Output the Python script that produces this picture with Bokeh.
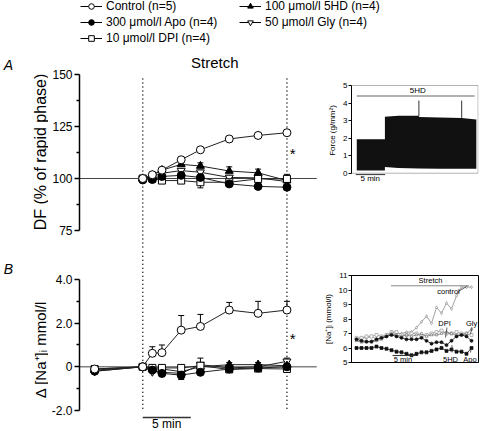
from bokeh.plotting import figure
from bokeh.models import (Range1d, FixedTicker, Label, Legend, LegendItem,
                          BoxAnnotation, ColumnDataSource)
from bokeh.layouts import column, row
from bokeh.embed import file_html
from bokeh.resources import INLINE
from bokeh.core.properties import value

FONT = "Liberation Sans"

# ---------------- data ----------------
series_names = ["Control (n=5)", "300 \u03bcmol/l Apo (n=4)", "10 \u03bcmol/l DPI (n=4)",
                "100 \u03bcmol/l 5HD (n=4)", "50 \u03bcmol/l Gly (n=4)"]
series_markers = ["circle", "circle", "square", "triangle", "inverted_triangle"]
series_fills = ["white", "black", "white", "black", "white"]
err_sign = [1, -1, -1, 1, 1]

# Panel A: DF (% of rapid phase)
time_a = [0, 1, 2, 4, 6, 9, 12, 15]
df_control = [100, 101.8, 104, 109, 113.8, 119, 120.7, 122]
df_apo = [99.3, 99.5, 101, 101.5, 100.5, 97.4, 96.2, 95.8]
df_dpi = [100, 100, 99, 99, 98.2, 98.2, 99.8, 99.8]
df_5hd = [100, 101.5, 104, 106.8, 106, 103.6, 102.7, 99]
df_gly = [100, 101, 102.5, 103.8, 103, 100.5, 100.3, 98.5]
df_err_control = [0.3, 0.5, 0.8, 1.0, 1.0, 1.0, 1.0, 1.2]
df_err_apo = [0.3, 0.5, 0.5, 1.0, 1.5, 1.0, 1.0, 1.0]
df_err_dpi = [0.3, 0.5, 1.0, 1.0, 2.7, 1.0, 0.5, 0.5]
df_err_5hd = [0.3, 0.5, 1.0, 1.0, 1.5, 2.0, 1.8, 1.0]
df_err_gly = [0.3, 0.5, 0.5, 1.0, 1.0, 1.0, 1.0, 3.5]

# Panel B: delta [Na+]i (mmol/l)
time_b = [-5, 0, 1, 2, 4, 6, 9, 12, 15]
na_control = [-0.1, 0, 0.62, 0.65, 1.68, 1.85, 2.6, 2.45, 2.6]
na_apo = [-0.2, 0, -0.15, -0.3, -0.38, -0.25, -0.1, -0.05, 0.0]
na_dpi = [-0.1, 0, -0.05, -0.05, -0.05, 0.05, -0.12, -0.08, -0.1]
na_5hd = [-0.15, 0, -0.1, -0.1, -0.22, 0.0, 0.1, 0.1, 0.05]
na_gly = [-0.2, 0, -0.22, -0.25, -0.3, 0.1, -0.05, 0.0, 0.25]
na_err_control = [0.05, 0, 0.3, 0.35, 0.67, 0.55, 0.35, 0.55, 0.4]
na_err_apo = [0.1, 0, 0.1, 0.15, 0.2, 0.1, 0.1, 0.1, 0.1]
na_err_dpi = [0.1, 0, 0.1, 0.1, 0.1, 0.1, 0.1, 0.1, 0.1]
na_err_5hd = [0.1, 0, 0.1, 0.1, 0.1, 0.1, 0.1, 0.1, 0.1]
na_err_gly = [0.1, 0, 0.15, 0.15, 0.2, 0.3, 0.1, 0.1, 0.15]

stretch_period = [0, 15]
scale_bar_min = [0, 5]

# Inset A: force trace with 5HD
force_time = [0.9, 5.7, 5.7, 8.0, 11.5, 11.5, 15.0, 18.8, 21.3]
force_high = [1.93, 1.93, 3.22, 3.28, 3.28, 3.2, 3.18, 3.15, 3.06]
force_low = [0.15, 0.15, 0.35, 0.3, 0.27, 0.27, 0.25, 0.25, 0.25]
spike_time = [11.5, 18.8]
spike_base = [3.25, 3.15]
spike_top = [4.14, 4.14]
hd_bar_time = [0.9, 21.0]
hd_bar_level = [4.4, 4.4]
force_ticks = [0, 1, 2, 3, 4, 5]

# Inset B: [Na+]i traces
trace_time = list(range(1, 25))
trace_control = [6.6, 6.7, 6.7, 6.8, 6.6, 6.7, 6.8, 7.1, 7.0, 7.0, 7.1, 7.1,
                 7.4, 7.8, 8.2, 7.7, 8.8, 8.4, 9.1, 8.7, 9.6, 10.2, 10.2, 10.2]
trace_apo = [6.0, 6.0, 6.0, 6.0, 6.1, 6.0, 5.95, 5.85, 5.75, 5.7, 5.6, 5.5,
             5.6, 5.7, 5.7, 5.8, 5.9, 6.0, 5.8, 5.9, 5.75, 5.75, 5.6, 6.0]
trace_5hd = [6.6, 6.5, 6.45, 6.45, 6.6, 6.7, 6.8, 6.9, 6.8, 6.7, 6.6, 6.6,
             6.6, 6.7, 6.5, 6.3, 6.4, 6.4, 6.2, 6.5, 6.8, 6.9, 6.8, 6.5]
trace_dpi = [6.7, 6.7, 6.8, 6.8, 6.9, 6.8, 6.9, 7.1, 7.1, 6.9, 6.9, 7.0,
             7.0, 6.8, 6.9, 7.0, 7.1, 7.2, 7.0, 7.0, 7.1, 7.0, 7.0, 6.9]
trace_gly = [6.5, 6.4, 6.4, 6.4, 6.5, 6.6, 6.8, 7.0, 6.9, 6.8, 6.9, 6.8,
             6.9, 7.0, 6.8, 6.9, 6.9, 7.0, 7.1, 7.0, 6.9, 6.9, 7.0, 7.3]
stretch_bar_time = [7.9, 23.5]
na_ticks = [5, 6, 7, 8, 9, 10, 11]

# ---------------- helpers ----------------
def style_axis(ax, size, major, minor=None, bounds=None, tick_out=5, minor_out=3,
               lw=1.5, standoff=2):
    ax.ticker = FixedTicker(ticks=major, minor_ticks=minor or [])
    if bounds is not None:
        ax.bounds = bounds
    ax.axis_line_width = lw
    ax.major_tick_line_width = lw
    ax.minor_tick_line_width = lw
    ax.major_tick_out = tick_out
    ax.major_tick_in = 0
    ax.minor_tick_out = minor_out
    ax.minor_tick_in = 0
    ax.major_label_text_font = FONT
    ax.major_label_text_font_size = size
    ax.major_label_text_color = "black"
    ax.major_label_standoff = standoff
    ax.axis_line_color = "black"
    ax.major_tick_line_color = "black"
    ax.minor_tick_line_color = "black"
    ax.axis_label_text_color = "black"


def draw_series(p, t, ys, errs, size):
    for y in ys:
        p.line(t, y, line_color="#222222", line_width=1)
    for y, e, s in zip(ys, errs, err_sign):
        ends = [yy + s * ee for yy, ee in zip(y, e)]
        p.segment(x0=t, y0=y, x1=t, y1=ends, line_color="black", line_width=1)
        p.scatter(x=t, y=ends, marker="dash", size=6, line_color="black", line_width=1)
    order = [4, 3, 2, 1, 0]
    for i in order:
        m = series_markers[i]
        sz = size if m != "square" else size - 1
        p.scatter(x=t, y=ys[i], marker=m, size=sz, fill_color=series_fills[i],
                  line_color="black", line_width=1)


# ---------------- legend strip ----------------
leg = figure(width=480, height=55, x_range=Range1d(0, 1), y_range=Range1d(0, 1),
             toolbar_location=None, output_backend="svg", min_border=0,
             x_axis_location=None, y_axis_location=None, outline_line_color=None)
leg.grid.visible = False
items = []
for name, m, f in zip(series_names, series_markers, series_fills):
    src = ColumnDataSource(data=dict(x=[-10, -11], y=[-10, -11]))
    r1 = leg.line("x", "y", source=src, line_color="black", line_width=1)
    r2 = leg.scatter("x", "y", source=src, marker=m, size=6, fill_color=f,
                     line_color="black", line_width=1)
    items.append(LegendItem(label=name, renderers=[r1, r2]))
legend = Legend(items=items, location=(80, 10), orientation="vertical", nrows=3,
                glyph_width=22, glyph_height=14, label_height=14, label_width=131,
                label_standoff=4, spacing=2, padding=0, margin=0,
                border_line_color=None, background_fill_alpha=0,
                label_text_font=FONT, label_text_font_size="12px",
                label_text_color="black")
leg.add_layout(legend)

# ---------------- left strip with panel letters and y titles ----------------
strip = figure(width=48, height=376, x_range=Range1d(0, 48), y_range=Range1d(0, 376),
               toolbar_location=None, output_backend="svg", min_border=0,
               x_axis_location=None, y_axis_location=None, outline_line_color=None)
strip.grid.visible = False
strip.text(x=[8, 8], y=[367, 163], text=["A", "B"], text_align="center",
           text_baseline="middle", text_font=value(FONT), text_font_size="14px",
           text_font_style="italic", text_color="black")
strip.text(x=[40], y=[279.5], text=["DF (% of rapid phase)"], angle=1.5708,
           text_align="center", text_baseline="middle", text_font=value(FONT),
           text_font_size="16px", text_color="black")
strip.text(x=[40], y=[82], text=["\u0394 [Na\u207a]\u1d62 mmol/l"], angle=1.5708,
           text_align="center", text_baseline="middle", text_font=value(FONT),
           text_font_size="15px", text_color="black")

# ---------------- main panels ----------------
x_rng = Range1d(-6.575, 18.49)

def main_fig(h, y0, y1):
    p = figure(width=272, height=h, x_range=x_rng, y_range=Range1d(y0, y1),
               toolbar_location=None, output_backend="svg", x_axis_location=None,
               min_border_left=28, min_border_right=0, min_border_top=0,
               min_border_bottom=0, outline_line_color=None)
    p.grid.visible = False
    return p

# Panel A
pa = main_fig(195, 65.38, 159.13)
style_axis(pa.yaxis[0], "12px", [75, 100, 125, 150], [87.5, 112.5, 137.5], bounds=(75, 150))
pa.segment(x0=[x_rng.start], y0=[100], x1=[18.1], y1=[100], line_color="#444444", line_width=1)
pa.segment(x0=stretch_period, y0=[148.1, 148.1], x1=stretch_period, y1=[60, 60],
           line_color="black", line_width=1.5, line_dash="1 3")
draw_series(pa, time_a, [df_control, df_apo, df_dpi, df_5hd, df_gly],
            [df_err_control, df_err_apo, df_err_dpi, df_err_5hd, df_err_gly], 8)
pa.add_layout(Label(x=7.5, y=155.8, text="Stretch", text_align="center", text_baseline="middle",
                    text_font=FONT, text_font_size="15px", text_color="black"))
pa.add_layout(Label(x=15.6, y=112, text="*", text_align="center", text_baseline="middle",
                    text_font=FONT, text_font_size="15px", text_color="black"))

# Panel B
pb = main_fig(181, -2.962, 5.328)
style_axis(pb.yaxis[0], "12px", [-2, 0, 2, 4], [-1, 1, 3], bounds=(-2, 4))
pb.yaxis[0].major_label_overrides = {4: "4.0", 2: "2.0", 0: "0", -2: "-2.0"}
pb.segment(x0=[x_rng.start], y0=[0], x1=[18.1], y1=[0], line_color="#444444", line_width=1)
pb.segment(x0=stretch_period, y0=[6, 6], x1=stretch_period, y1=[-2.0, -2.0],
           line_color="black", line_width=1.5, line_dash="1 3")
draw_series(pb, time_b, [na_control, na_apo, na_dpi, na_5hd, na_gly],
            [na_err_control, na_err_apo, na_err_dpi, na_err_5hd, na_err_gly], 8)
pb.line(scale_bar_min, [-2.32, -2.32], line_color="#333333", line_width=1.5)
pb.add_layout(Label(x=2.5, y=-2.63, text="5 min", text_align="center", text_baseline="middle",
                    text_font=FONT, text_font_size="12px", text_color="black"))
pb.add_layout(Label(x=15.6, y=1.30, text="*", text_align="center", text_baseline="middle",
                    text_font=FONT, text_font_size="15px", text_color="black"))

# ---------------- inset A ----------------
ia = figure(width=160, height=195, x_range=Range1d(0, 21.67), y_range=Range1d(-0.587, 5.456),
            toolbar_location=None, output_backend="svg", x_axis_location=None,
            min_border_left=31, min_border_right=2, min_border_top=22, min_border_bottom=67,
            outline_line_color=None)
ia.grid.visible = False
style_axis(ia.yaxis[0], "8px", force_ticks, bounds=(0, 5), tick_out=3, lw=1, standoff=1)
ia.yaxis[0].axis_label = "Force (g/mm\u00b2)"
ia.yaxis[0].axis_label_text_font = FONT
ia.yaxis[0].axis_label_text_font_size = "8px"
ia.yaxis[0].axis_label_text_font_style = "normal"
ia.yaxis[0].axis_label_standoff = 3
ia.add_layout(BoxAnnotation(left=0, right=21.6, bottom=0, top=5, fill_alpha=0,
                            line_color="black", line_width=1))
ia.varea(x=force_time, y1=force_low, y2=force_high, fill_color="#111111")
ia.segment(x0=spike_time, y0=spike_base, x1=spike_time, y1=spike_top,
           line_color="#333333", line_width=1)
ia.line(hd_bar_time, hd_bar_level, line_color="#999999", line_width=1.5)
ia.text(x=[11.3], y=[4.72], text=["5HD"], text_align="center", text_baseline="middle",
        text_font=value(FONT), text_font_size="8px", text_color="black")
ia.line([0.73, 5.73], [-0.08, -0.08], line_color="#333333", line_width=1)
ia.text(x=[3.2], y=[-0.32], text=["5 min"], text_align="center", text_baseline="middle",
        text_font=value(FONT), text_font_size="8px", text_color="black")

# ---------------- inset B ----------------
ib = figure(width=160, height=181, x_range=Range1d(0, 25.4), y_range=Range1d(5, 11),
            toolbar_location=None, output_backend="svg", x_axis_location=None,
            min_border_left=31, min_border_right=2, min_border_top=25, min_border_bottom=69,
            outline_line_color="black", outline_line_width=1)
ib.grid.visible = False
style_axis(ib.yaxis[0], "8px", na_ticks, tick_out=3, lw=1, standoff=1)
ib.yaxis[0].axis_label = "[Na\u207a]\u1d62 (mmol/l)"
ib.yaxis[0].axis_label_text_font = FONT
ib.yaxis[0].axis_label_text_font_size = "8px"
ib.yaxis[0].axis_label_text_font_style = "normal"
ib.yaxis[0].axis_label_standoff = 3
trace_series = [trace_control, trace_dpi, trace_gly, trace_5hd, trace_apo]
trace_colors = ["#8a8a8a", "#9a9a9a", "#7a7a7a", "#111111", "#111111"]
trace_markers = ["diamond", "square", "triangle", "circle", "square"]
trace_fills = ["white", "white", "white", "#111111", "#111111"]
for y, c, m, f in zip(trace_series, trace_colors, trace_markers, trace_fills):
    ib.line(trace_time, y, line_color=c, line_width=0.8)
    ib.scatter(trace_time, y, marker=m, size=3, fill_color=f, line_color=c, line_width=0.7)
ib.line(stretch_bar_time, [10.29, 10.29], line_color="#888888", line_width=1)
ib.line([8.2, 13.2], [5.48, 5.48], line_color="#333333", line_width=1)
ann_text = ["Stretch", "control", "DPI", "Gly", "5HD", "Apo", "5 min"]
ib.text(x=[15.8, 19.4, 18.6, 24.0, 19.8, 23.7, 10.3],
        y=[10.66, 9.9, 7.69, 7.69, 5.21, 5.21, 5.21], text=ann_text,
        text_align="center", text_baseline="middle",
        text_font=value(FONT), text_font_size="7.5px", text_color="black")
ib.segment(x0=[21.4, 19.1, 24.1, 20.1, 23.8], y0=[9.9, 7.41, 7.41, 5.69, 5.69],
           x1=[23.0, 18.8, 23.8, 20.1, 23.9], y1=[10.24, 6.72, 6.95, 6.19, 5.92],
           line_color="#333333", line_width=0.8)

layout = column(leg, row(strip, column(pa, pb), column(ia, ib)))
open("out.html", "w").write(file_html(layout, INLINE))
